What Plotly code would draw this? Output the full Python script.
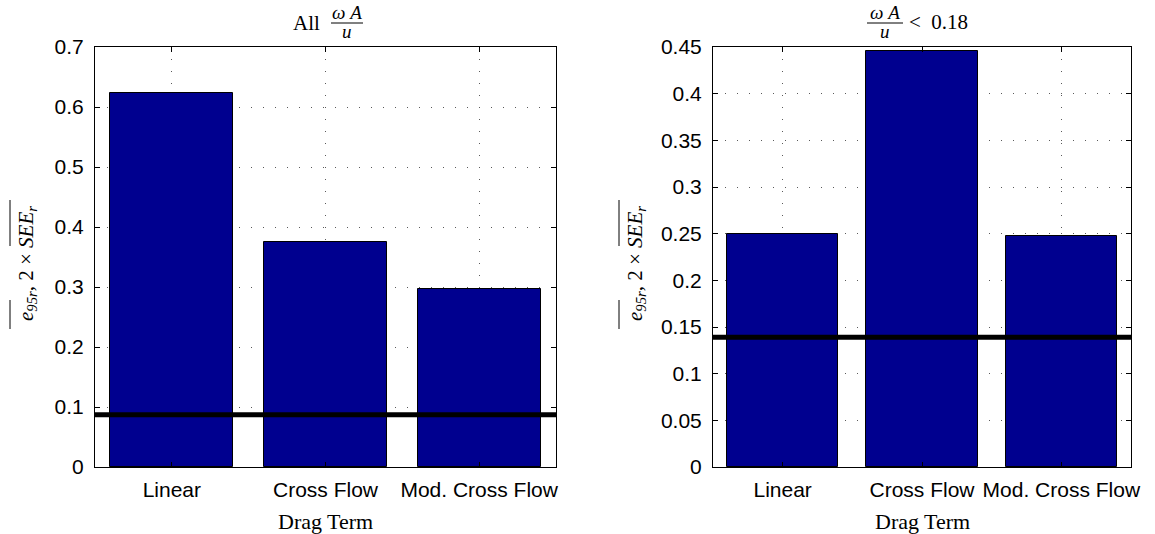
import plotly.graph_objects as go

# Drag-term model comparison: mean error ratio per drag formulation
categories = ["Linear", "Cross Flow", "Mod. Cross Flow"]
err_all = [0.624, 0.375, 0.297]          # all omega*A/u
err_low = [0.250, 0.446, 0.248]          # omega*A/u < 0.18
see_all = 0.087                          # 2 x mean SEE, all data
see_low = 0.139                          # 2 x mean SEE, low omega*A/u
yticks_all = [0, 0.1, 0.2, 0.3, 0.4, 0.5, 0.6, 0.7]
yticks_low = [0, 0.05, 0.1, 0.15, 0.2, 0.25, 0.3, 0.35, 0.4, 0.45]

W, H = 1155, 534
BAR = "rgb(0,0,143)"
SANS = "Liberation Sans, Arial, sans-serif"
SERIF = "Liberation Serif, Times New Roman, serif"

def px(x):
    return x / W

def py(y):
    return 1 - y / H

fig = go.Figure()
fig.add_trace(go.Bar(x=[1, 2, 3], y=err_all, width=0.8, marker=dict(color=BAR, line=dict(color="black", width=1)),
                     xaxis="x", yaxis="y", showlegend=False))
fig.add_trace(go.Bar(x=[1, 2, 3], y=err_low, width=0.8, marker=dict(color=BAR, line=dict(color="black", width=1)),
                     xaxis="x2", yaxis="y2", showlegend=False))

common_axis = dict(showline=True, linecolor="black", linewidth=1, mirror="allticks",
                   ticks="inside", ticklen=5, tickcolor="black", zeroline=False,
                   showgrid=True, gridcolor="rgb(90,90,90)", gridwidth=1, griddash="1px,11px",
                   tickfont=dict(family=SANS, size=21, color="black"))

xa = dict(common_axis, tickmode="array", tickvals=[1, 2, 3], ticktext=categories, range=[0.5, 3.5],
          ticklabelstandoff=4)

fig.update_layout(
    width=W, height=H, autosize=False,
    margin=dict(l=0, r=0, t=0, b=0, autoexpand=False),
    paper_bgcolor="white", plot_bgcolor="white",
    bargap=0,
    xaxis=dict(xa, domain=[px(95), px(556)], anchor="y"),
    xaxis2=dict(xa, domain=[px(713), px(1131)], anchor="y2"),
    yaxis=dict(common_axis, domain=[py(467), py(47)], range=[0, 0.7], tickmode="array", tickvals=yticks_all,
               ticklabelstandoff=6, anchor="x"),
    yaxis2=dict(common_axis, domain=[py(467), py(47)], range=[0, 0.45], tickmode="array", tickvals=yticks_low,
                ticklabelstandoff=6, anchor="x2"),
)

# 2 x SEE reference levels
fig.add_shape(type="line", xref="x domain", yref="y", x0=0, x1=1, y0=see_all, y1=see_all,
              line=dict(color="black", width=5), layer="above")
fig.add_shape(type="line", xref="x2 domain", yref="y2", x0=0, x1=1, y0=see_low, y1=see_low,
              line=dict(color="black", width=5), layer="above")

ylabel = '<i>e</i><sub><i>95r</i></sub>, 2 × <i>SEE</i><sub><i>r</i></sub>'

def text(x, y, s, size, family=SERIF, angle=0):
    fig.add_annotation(x=px(x), y=py(y), xref="paper", yref="paper", text=s, showarrow=False,
                       xanchor="center", yanchor="middle", textangle=angle, borderpad=0,
                       font=dict(family=family, size=size, color="black"))

def hline(x0, x1, y):
    fig.add_shape(type="line", xref="paper", yref="paper", x0=px(x0), x1=px(x1),
                  y0=py(y), y1=py(y), line=dict(color="black", width=1))

def vline(x, y0, y1):
    fig.add_shape(type="line", xref="paper", yref="paper", x0=px(x), x1=px(x),
                  y0=py(y0), y1=py(y1), line=dict(color="black", width=1))

# axis titles
text(325, 521, "Drag Term", 22)
text(922, 521, "Drag Term", 22)
for cx in (27, 636):
    text(cx, 264, ylabel, 21, angle=-90)
    # mean bars over e_95r and SEE_r
    vline(cx - 17, 300, 329)
    vline(cx - 17, 200, 246)

# panel titles with stacked fraction  omega A / u
def fraction(cx, ytop=12, ybar=23, ybot=31, half=16):
    text(cx, ytop, "<i>ω A</i>", 19)
    text(cx, ybot, "<i>u</i>", 19)
    hline(cx - half, cx + half, ybar)

text(306, 23, "All", 21)
fraction(347)
fraction(885, half=18)
text(938, 22, "&lt;  0.18", 21)

fig.write_html("out.html")
